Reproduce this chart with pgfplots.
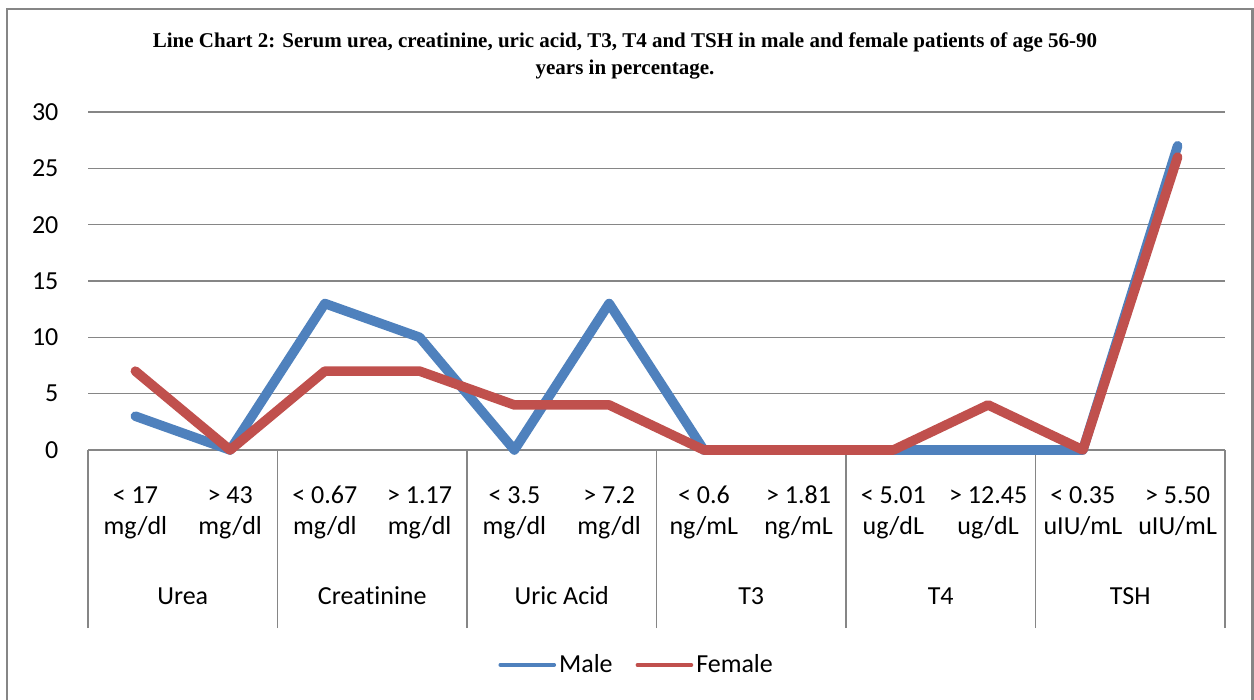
\documentclass[border=0pt]{standalone}
\usepackage{fontspec}
\setmainfont{Carlito}[Ligatures={NoCommon}]
\newfontfamily\titlefont{Liberation Serif}
\usepackage{pgfplots}
\pgfplotsset{compat=1.18}
\definecolor{male}{HTML}{4F81BD}
\definecolor{female}{HTML}{C0504D}
\definecolor{gridc}{HTML}{868686}
\begin{document}
\begin{tikzpicture}[x=1pt,y=1pt]
\useasboundingbox (0,0) rectangle (627,350);
\draw[gridc, line width=1.4pt] (3.5,-3) rectangle (626.3,345.5);
\node[font=\titlefont\bfseries\fontsize{10.5}{13.5}\selectfont, align=center] at (312.5,321.8)
  {Line Chart 2: Serum urea, creatinine, uric acid, T3, T4 and TSH in male and female patients of age 56-90\\years in percentage.};
\begin{axis}[
  at={(44pt,125pt)}, anchor=south west,
  scale only axis, width=568.5pt, height=169pt,
  xmin=-0.5, xmax=11.5, ymin=0, ymax=30,
  ytick={0,5,...,30},
  ymajorgrids, grid style={gridc, line width=0.75pt},
  axis lines*=left,
  y axis line style={draw=none},
  x axis line style={gridc, line width=0.75pt},
  /pgf/number format/assume math mode=true,
  tick label style={font=\fontsize{13}{15.5}\selectfont, text=black},
  ytick style={draw=none},
  yticklabel style={xshift=-7pt},
  xtick={0,...,11},
  xticklabels={{\strut< 17\\\strut mg/dl},{\strut> 43\\\strut mg/dl},{\strut< 0.67\\\strut mg/dl},{\strut> 1.17\\\strut mg/dl},{\strut< 3.5\\\strut mg/dl},{\strut> 7.2\\\strut mg/dl},{\strut< 0.6\\\strut ng/mL},{\strut> 1.81\\\strut ng/mL},{\strut< 5.01\\\strut ug/dL},{\strut> 12.45\\\strut ug/dL},{\strut< 0.35\\\strut uIU/mL},{\strut> 5.50\\\strut uIU/mL}},
  xticklabel style={align=center, anchor=north, yshift=-8pt},
  major x tick style={draw=none},
  minor xtick={-0.5,1.5,3.5,5.5,7.5,9.5,11.5},
  minor tick length=89pt,
  tick align=outside,
  minor x tick style={gridc, line width=0.75pt},
  extra x ticks={0.5,2.5,4.5,6.5,8.5,10.5},
  extra x tick labels={\strut Urea,\strut Creatinine,\strut Uric Acid,\strut T3,\strut T4,\strut TSH},
  extra x tick style={major tick length=0pt, tick style={draw=none}, xticklabel style={yshift=-55pt}},
  clip=false,
  legend columns=2,
  legend style={draw=none, at={(0.483,-0.636)}, anchor=center, font=\fontsize{13}{15.5}\selectfont,
    nodes={inner xsep=1.5pt}, /tikz/every even column/.append style={column sep=10pt}},
  legend image code/.code={\draw[#1, line width=1.8pt, line cap=round] (0pt,0pt) -- (27pt,0pt);},
  every axis plot/.append style={line width=4.8pt, line cap=round, line join=round, mark=none},
]
\addplot[male] coordinates {(0,3) (1,0) (2,13) (3,10) (4,0) (5,13) (6,0) (7,0) (8,0) (9,0) (10,0) (11,27)};
\addplot[female] coordinates {(0,7) (1,0) (2,7) (3,7) (4,4) (5,4) (6,0) (7,0) (8,0) (9,4) (10,0) (11,26)};
\legend{Male,Female}
\end{axis}
\end{tikzpicture}
\end{document}
